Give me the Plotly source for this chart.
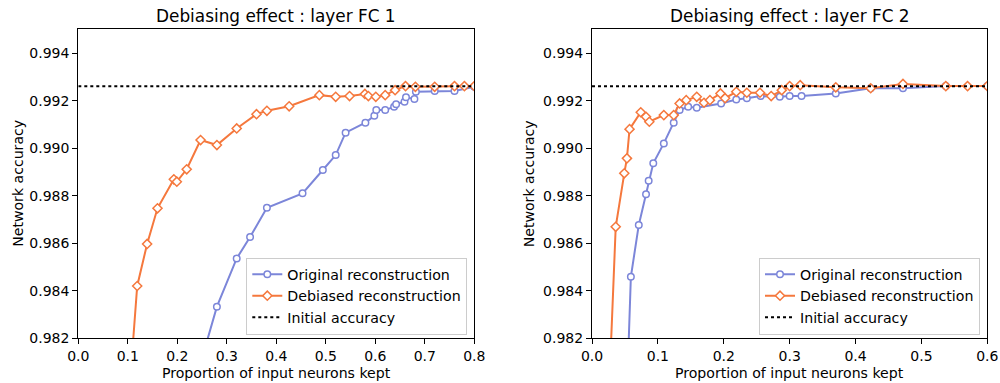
import plotly.graph_objects as go

# ---------------- data ----------------
# Layer FC 1
fc1_orig_x = [0.240, 0.280, 0.320, 0.347, 0.381, 0.453, 0.494, 0.520, 0.540, 0.580,
              0.598, 0.602, 0.620, 0.638, 0.642, 0.659, 0.662, 0.679, 0.682, 0.720, 0.760, 0.800]
fc1_orig_y = [0.98044, 0.98333, 0.98536, 0.98626, 0.98749, 0.98810, 0.98908, 0.98971, 0.99065, 0.99107,
              0.99136, 0.99160, 0.99160, 0.99174, 0.99185, 0.99195, 0.99214, 0.99207, 0.99237, 0.99240, 0.99240, 0.99258]
fc1_deb_x = [0.100, 0.119, 0.139, 0.160, 0.193, 0.199, 0.219, 0.247, 0.280, 0.320, 0.360, 0.381,
             0.426, 0.487, 0.520, 0.548, 0.579, 0.586, 0.601, 0.620, 0.640, 0.661, 0.681, 0.720,
             0.760, 0.780, 0.800]
fc1_deb_y = [0.97890, 0.98420, 0.98597, 0.98747, 0.98869, 0.98859, 0.98911, 0.99034, 0.99013, 0.99083,
             0.99143, 0.99157, 0.99176, 0.99223, 0.99216, 0.99219, 0.99228, 0.99219, 0.99216, 0.99223,
             0.99244, 0.99261, 0.99258, 0.99258, 0.99261, 0.99261, 0.99261]

# Layer FC 2
fc2_orig_x = [0.054, 0.059, 0.071, 0.082, 0.086, 0.093, 0.109, 0.124, 0.133, 0.146, 0.159,
              0.196, 0.219, 0.235, 0.256, 0.285, 0.300, 0.318, 0.370, 0.423, 0.472, 0.537, 0.600]
fc2_orig_y = [0.98050, 0.98459, 0.98677, 0.98806, 0.98863, 0.98936, 0.99020, 0.99107, 0.99160, 0.99174, 0.99170,
              0.99188, 0.99205, 0.99210, 0.99219, 0.99216, 0.99219, 0.99219, 0.99230, 0.99252, 0.99252, 0.99261, 0.99261]
fc2_deb_x = [0.027, 0.036, 0.049, 0.053, 0.057, 0.074, 0.082, 0.087, 0.109, 0.124, 0.133, 0.143,
             0.159, 0.170, 0.179, 0.195, 0.202, 0.219, 0.235, 0.255, 0.272, 0.288, 0.300, 0.316,
             0.370, 0.423, 0.472, 0.537, 0.570, 0.600]
fc2_deb_y = [0.98050, 0.98669, 0.98894, 0.98957, 0.99080, 0.99151, 0.99132, 0.99111, 0.99139, 0.99139,
             0.99188, 0.99202, 0.99216, 0.99191, 0.99202, 0.99230, 0.99210, 0.99237, 0.99233, 0.99233,
             0.99219, 0.99244, 0.99261, 0.99265, 0.99256, 0.99252, 0.99270, 0.99261, 0.99261, 0.99261]

initial_accuracy = 0.9926
fc1_x_range = [0.0, 0.8]
fc2_x_range = [0.0, 0.6]
y_range = [0.982, 0.995]
y_ticks = [0.982, 0.984, 0.986, 0.988, 0.990, 0.992, 0.994]
fc1_x_ticks = [0.0, 0.1, 0.2, 0.3, 0.4, 0.5, 0.6, 0.7, 0.8]
fc2_x_ticks = [0.0, 0.1, 0.2, 0.3, 0.4, 0.5, 0.6]

titles = ["Debiasing effect : layer FC 1", "Debiasing effect : layer FC 2"]
x_label = "Proportion of input neurons kept"
y_label = "Network accuracy"

# ---------------- style ----------------
BLUE = "#7c86d9"
ORANGE = "#f5783d"
FONT = "DejaVu Sans"
W, H = 1000, 383

fig = go.Figure()

def add_panel(xo, yo, xd, yd, xr, xaxis, yaxis, legend):
    fig.add_trace(go.Scatter(
        x=xo, y=yo, mode="lines+markers", name="Original reconstruction",
        xaxis=xaxis, yaxis=yaxis, legend=legend,
        line=dict(color=BLUE, width=2),
        marker=dict(symbol="circle", size=6.5, color="white", line=dict(color=BLUE, width=1.5)),
    ))
    fig.add_trace(go.Scatter(
        x=xd, y=yd, mode="lines+markers", name="Debiased reconstruction",
        xaxis=xaxis, yaxis=yaxis, legend=legend,
        line=dict(color=ORANGE, width=2),
        marker=dict(symbol="diamond", size=7, color="white", line=dict(color=ORANGE, width=1.5)),
    ))
    fig.add_trace(go.Scatter(
        x=xr, y=[initial_accuracy] * len(xr), mode="lines", name="Initial accuracy",
        xaxis=xaxis, yaxis=yaxis, legend=legend,
        line=dict(color="black", width=2, dash="dot"),
    ))

add_panel(fc1_orig_x, fc1_orig_y, fc1_deb_x, fc1_deb_y, fc1_x_range, "x", "y", "legend")
add_panel(fc2_orig_x, fc2_orig_y, fc2_deb_x, fc2_deb_y, fc2_x_range, "x2", "y2", "legend2")

# pixel-based domains
def px_x(p):
    return p / W

def px_y(p):
    return (H - p) / H

top_px, bot_px = 29.3, 338.3
ydom = [px_y(bot_px), px_y(top_px)]
dom1 = [px_x(78.3), px_x(474.3)]
dom2 = [px_x(592.0), px_x(987.3)]

axis_common = dict(
    showline=True, linecolor="black", linewidth=1.1, mirror=True,
    ticks="outside", ticklen=5, tickwidth=1.1, tickcolor="black",
    showgrid=False, zeroline=False,
    tickfont=dict(family=FONT, size=14, color="black"),
    automargin=False,
)

legend_common = dict(xanchor="right", yanchor="bottom",
                     bgcolor="rgba(255,255,255,0.85)", bordercolor="#cccccc", borderwidth=1,
                     font=dict(family=FONT, size=14.2), tracegroupgap=0, itemwidth=30)

fig.update_layout(
    width=W, height=H,
    margin=dict(l=0, r=0, t=0, b=0),
    plot_bgcolor="white", paper_bgcolor="white",
    font=dict(family=FONT, size=14, color="black"),
    xaxis=dict(domain=dom1, range=fc1_x_range, tickvals=fc1_x_ticks, tickformat=".1f",
               anchor="y", **axis_common),
    yaxis=dict(domain=ydom, range=y_range, tickvals=y_ticks, tickformat=".3f",
               anchor="x", **axis_common),
    xaxis2=dict(domain=dom2, range=fc2_x_range, tickvals=fc2_x_ticks, tickformat=".1f",
                anchor="y2", **axis_common),
    yaxis2=dict(domain=ydom, range=y_range, tickvals=y_ticks, tickformat=".3f",
                anchor="x2", **axis_common),
    legend=dict(x=px_x(467.3), y=px_y(334.5), **legend_common),
    legend2=dict(x=px_x(980.0), y=px_y(334.5), **legend_common),
    showlegend=True,
)

annotations = []
for dom, ttl, ylab_px in [(dom1, titles[0], 18), (dom2, titles[1], 528.5)]:
    cx = (dom[0] + dom[1]) / 2
    annotations.append(dict(text=ttl, x=cx, y=px_y(16), xref="paper", yref="paper",
                            xanchor="center", yanchor="middle", showarrow=False,
                            font=dict(family=FONT, size=16.9, color="black")))
    annotations.append(dict(text=x_label, x=cx, y=px_y(373), xref="paper", yref="paper",
                            xanchor="center", yanchor="middle", showarrow=False,
                            font=dict(family=FONT, size=14.1, color="black")))
    annotations.append(dict(text=y_label, x=px_x(ylab_px), y=px_y((top_px + bot_px) / 2),
                            xref="paper", yref="paper", textangle=-90,
                            xanchor="center", yanchor="middle", showarrow=False,
                            font=dict(family=FONT, size=14.1, color="black")))
fig.update_layout(annotations=annotations)

fig.write_html("out.html",
               config={"displayModeBar": False},
               post_script="document.body.style.margin='0';document.body.style.overflow='hidden';")
